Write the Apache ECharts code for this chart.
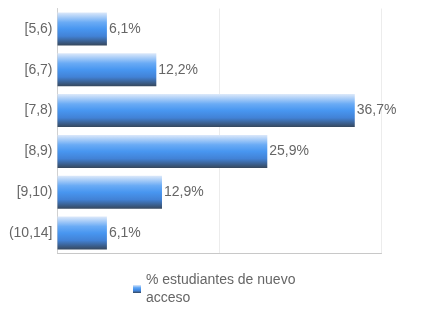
<!DOCTYPE html>
<html><head><meta charset="utf-8">
<script src="https://cdn.jsdelivr.net/npm/echarts@6/dist/echarts.min.js"></script>
<style>html,body{margin:0;padding:0;background:#fff}#c{width:432px;height:324px}</style>
</head><body><div id="c"></div>
<script>
const categories = ['[5,6)', '[6,7)', '[7,8)', '[8,9)', '[9,10)', '(10,14]'];
const values = [6.1, 12.2, 36.7, 25.9, 12.9, 6.1];
const seriesName = '% estudiantes de nuevo acceso';
const xTicks = [0, 20, 40];

const font = '"Liberation Sans", Arial, sans-serif';
const chart = echarts.init(document.getElementById('c'), null, {renderer: 'canvas'});
const grad = new echarts.graphic.LinearGradient(0, 0, 0, 1, [
  {offset: 0, color: '#dde9fa'},
  {offset: 0.3, color: '#6aabf5'},
  {offset: 0.5, color: '#4896f0'},
  {offset: 0.72, color: '#4282d6'},
  {offset: 1, color: '#36475c'}
]);
chart.setOption({
  animation: false,
  textStyle: {fontFamily: font},
  grid: {left: 57.5, right: 50.5, top: 8.5, bottom: 70.5, containLabel: false},
  xAxis: {
    type: 'value', min: xTicks[0], max: xTicks[xTicks.length - 1], interval: 20,
    axisLabel: {show: false}, axisTick: {show: false},
    axisLine: {show: true, lineStyle: {color: '#c8c8c8'}},
    splitLine: {show: true, lineStyle: {color: '#ececec'}}
  },
  yAxis: {
    type: 'category', data: categories, inverse: true,
    axisTick: {show: false},
    axisLine: {show: true, lineStyle: {color: '#d0d0d0'}},
    axisLabel: {color: '#666', fontSize: 14, margin: 5, fontFamily: font}
  },
  legend: {
    data: [seriesName], left: 128, top: 266,
    itemWidth: 8, itemHeight: 8, itemGap: 8,
    icon: 'rect',
    formatter: () => '% estudiantes de nuevo\nacceso',
    textStyle: {color: '#666', fontSize: 14, lineHeight: 18, fontFamily: font}
  },
  series: [{
    name: seriesName, type: 'bar', data: values, barWidth: '81%',
    itemStyle: {color: grad},
    label: {
      show: true, position: 'right', distance: 2, color: '#666', fontSize: 14, fontFamily: font,
      formatter: p => p.value.toFixed(1).replace('.', ',') + '%'
    }
  }]
});
</script></body></html>
